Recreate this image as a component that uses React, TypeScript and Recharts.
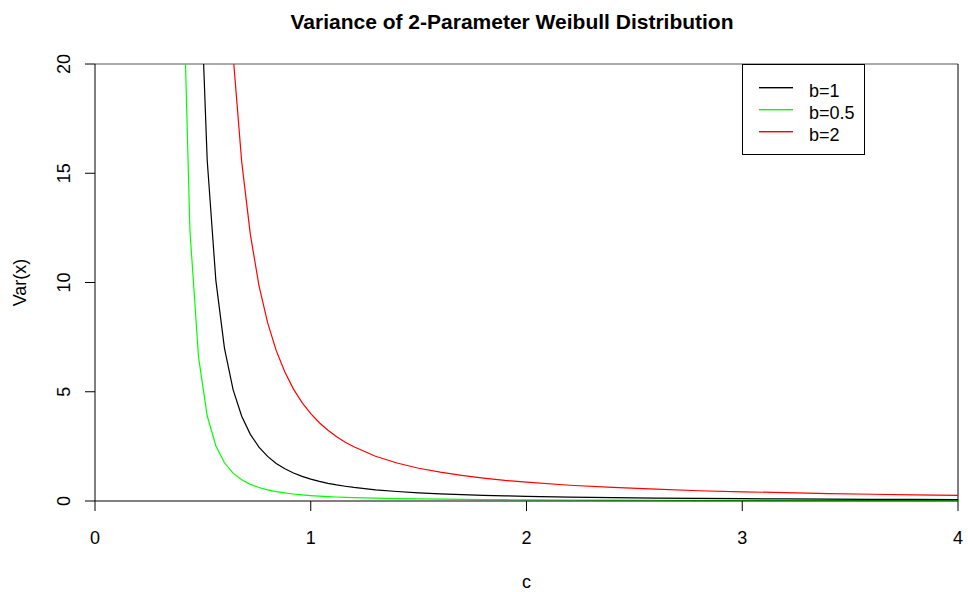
import React from 'react';
import { LineChart, Line, XAxis, YAxis, Legend, ReferenceLine, Label } from 'recharts';

// shape parameter c
const cValues = [
  0.40, 0.44, 0.48, 0.52, 0.56, 0.60, 0.64, 0.68, 0.72, 0.76, 0.80, 0.84, 0.88, 0.92, 0.96,
  1.00, 1.04, 1.08, 1.12, 1.16, 1.20, 1.3, 1.4, 1.5, 1.6, 1.7, 1.8, 1.9, 2.0,
  2.2, 2.4, 2.6, 2.8, 3.0, 3.2, 3.4, 3.6, 3.8, 4.0,
];

// Var(x) for scale b = 1
const varB1 = [
  108.96, 49.53, 26.26, 15.61, 10.11, 7.0, 5.1, 3.879, 3.05, 2.466, 2.04, 1.72, 1.474, 1.28, 1.126,
  1.0, 0.896, 0.809, 0.736, 0.674, 0.62, 0.513, 0.435, 0.376, 0.329, 0.292, 0.261, 0.236, 0.215,
  0.181, 0.155, 0.135, 0.119, 0.105, 0.094, 0.085, 0.077, 0.071, 0.065,
];

// Var(x) for scale b = 0.5
const varB05 = [
  27.24, 12.38, 6.57, 3.9, 2.53, 1.75, 1.276, 0.97, 0.763, 0.617, 0.51, 0.43, 0.368, 0.32, 0.281,
  0.25, 0.224, 0.202, 0.184, 0.168, 0.155, 0.128, 0.109, 0.094, 0.082, 0.073, 0.065, 0.059, 0.054,
  0.045, 0.039, 0.034, 0.03, 0.026, 0.024, 0.021, 0.019, 0.018, 0.016,
];

// Var(x) for scale b = 2
const varB2 = [
  435.8, 198.1, 105.0, 62.4, 40.4, 27.99, 20.41, 15.52, 12.2, 9.86, 8.16, 6.88, 5.9, 5.12, 4.5,
  4.0, 3.58, 3.24, 2.94, 2.69, 2.48, 2.05, 1.74, 1.5, 1.32, 1.17, 1.05, 0.94, 0.86,
  0.72, 0.62, 0.54, 0.47, 0.42, 0.38, 0.34, 0.31, 0.28, 0.26,
];

const xTicks = [0, 1, 2, 3, 4];
const yTicks = [0, 5, 10, 15, 20];

const seriesKeys = ['b1', 'b05', 'b2'];
const seriesNames = ['b=1', 'b=0.5', 'b=2'];
const seriesColors = ['#000000', '#00ff00', '#ff0000'];

const titleText = 'Variance of 2-Parameter Weibull Distribution';
const xLabel = 'c';
const yLabel = 'Var(x)';

const data = cValues.map((c, i) => ({ c, b1: varB1[i], b05: varB05[i], b2: varB2[i] }));

const FONT = '"Liberation Sans", Arial, Helvetica, sans-serif';

const XTick = (props: any) => {
  const { x, y, payload } = props;
  return (
    <text x={x} y={y + 31} textAnchor="middle" fontFamily={FONT} fontSize={18} fill="#000">
      {payload.value}
    </text>
  );
};

const YTick = (props: any) => {
  const { x, y, payload } = props;
  const bx = x - 13;
  return (
    <text
      x={bx}
      y={y}
      textAnchor="middle"
      fontFamily={FONT}
      fontSize={18}
      fill="#000"
      transform={`rotate(-90, ${bx}, ${y})`}
    >
      {payload.value}
    </text>
  );
};

const XTitle = (props: any) => {
  const vb = props.viewBox || {};
  const cx = vb.x + vb.width / 2;
  return (
    <text x={cx} y={vb.y + 87} textAnchor="middle" fontFamily={FONT} fontSize={18} fill="#000">
      {xLabel}
    </text>
  );
};

const YTitle = (props: any) => {
  const vb = props.viewBox || {};
  const cy = vb.y + vb.height / 2;
  const bx = 26;
  return (
    <text
      x={bx}
      y={cy}
      textAnchor="middle"
      fontFamily={FONT}
      fontSize={18}
      fill="#000"
      transform={`rotate(-90, ${bx}, ${cy})`}
    >
      {yLabel}
    </text>
  );
};

const LegendBox = () => {
  const rows = [23, 45, 67];
  return (
    <svg width={123} height={91} style={{ display: 'block' }}>
      <rect x={0.5} y={0.5} width={122} height={90} fill="#fff" stroke="#000" strokeWidth={1} />
      {seriesNames.map((name, i) => (
        <g key={name}>
          <rect x={17} y={rows[i]} width={34} height={1.4} fill={seriesColors[i]} />
          <text x={67} y={rows[i] + 9.5} fontFamily={FONT} fontSize={18} fill="#000">
            {name}
          </text>
        </g>
      ))}
    </svg>
  );
};

export default function App() {
  return (
    <div style={{ position: 'absolute', left: 0, top: 0, width: 968, height: 592, background: '#fff' }}>
      <LineChart
        width={968}
        height={592}
        data={data}
        margin={{ top: 64, right: 10, bottom: 0, left: 0 }}
      >
        <XAxis
          dataKey="c"
          type="number"
          domain={[0, 4]}
          ticks={xTicks}
          allowDataOverflow
          height={91}
          tickSize={10}
          tickMargin={2}
          axisLine={{ stroke: '#000', strokeWidth: 1 }}
          tickLine={{ stroke: '#000', strokeWidth: 1 }}
          tick={<XTick />}
          interval={0}
        >
          <Label content={<XTitle />} />
        </XAxis>
        <YAxis
          type="number"
          domain={[0, 20]}
          ticks={yTicks}
          allowDataOverflow
          width={95}
          tickSize={10}
          tickMargin={2}
          axisLine={{ stroke: '#000', strokeWidth: 1 }}
          tickLine={{ stroke: '#000', strokeWidth: 1 }}
          tick={<YTick />}
          interval={0}
        >
          <Label content={<YTitle />} />
        </YAxis>
        <ReferenceLine y={20} stroke="#555" strokeWidth={1} ifOverflow="extendDomain" />
        <ReferenceLine x={4} stroke="#000" strokeWidth={1} />
        {seriesKeys.map((k, i) => (
          <Line
            key={k}
            type="linear"
            dataKey={k}
            name={seriesNames[i]}
            stroke={seriesColors[i]}
            strokeWidth={1.2}
            dot={false}
            activeDot={false}
            isAnimationActive={false}
          />
        ))}
        <Legend
          layout="vertical"
          align="center"
          verticalAlign="middle"
          content={<LegendBox />}
          wrapperStyle={{ position: 'absolute', left: 742, top: 64, width: 123, height: 91 }}
        />
      </LineChart>
      <svg
        width={968}
        height={40}
        style={{ position: 'absolute', left: 0, top: 0, pointerEvents: 'none' }}
      >
        <text x={512} y={28.5} textAnchor="middle" fontFamily={FONT} fontSize={21} fontWeight="bold" fill="#000">
          {titleText}
        </text>
      </svg>
    </div>
  );
}
